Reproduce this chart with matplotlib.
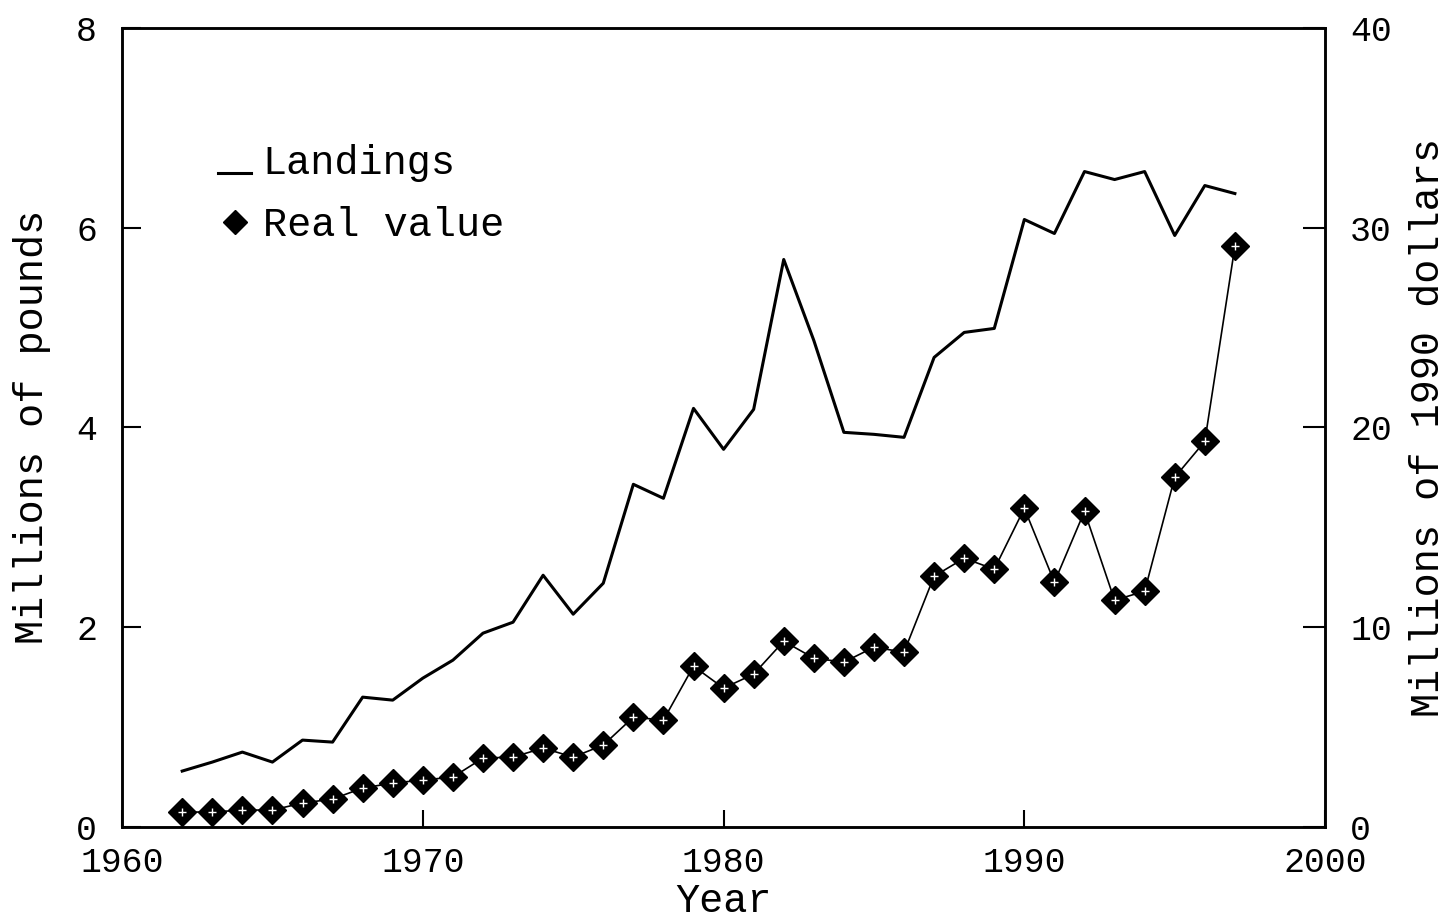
import numpy as np
import matplotlib.pyplot as plt
from matplotlib.lines import Line2D
from matplotlib.legend_handler import HandlerLine2D

plt.rcParams['font.family'] = ['Liberation Mono', 'DejaVu Sans Mono']

years = np.arange(1962, 1998)

# landings, millions of pounds
landings = [0.56, 0.65, 0.75, 0.65, 0.87, 0.85, 1.30, 1.27, 1.49, 1.67,
            1.94, 2.05, 2.52, 2.13, 2.44, 3.43, 3.29, 4.19, 3.78, 4.18,
            5.68, 4.87, 3.95, 3.93, 3.90, 4.70, 4.95, 4.99, 6.08, 5.94,
            6.56, 6.48, 6.56, 5.92, 6.42, 6.34]

# real value, millions of 1990 dollars
real_value = [0.75, 0.75, 0.85, 0.85, 1.2, 1.4, 1.95, 2.2, 2.35, 2.5,
              3.45, 3.5, 3.95, 3.5, 4.1, 5.5, 5.35, 8.05, 6.95, 7.65,
              9.3, 8.45, 8.25, 9.0, 8.75, 12.55, 13.45, 12.9, 15.95, 12.25,
              15.8, 11.35, 11.8, 17.5, 19.3, 29.05]

x_ticks = [1960, 1970, 1980, 1990, 2000]
left_ticks = [0, 2, 4, 6, 8]
right_ticks = [0, 10, 20, 30, 40]


class UnderscoreHandler(HandlerLine2D):
    # legend line sitting on the text baseline, like an underscore
    def create_artists(self, legend, orig_handle, xdescent, ydescent,
                       width, height, fontsize, trans):
        arts = super().create_artists(legend, orig_handle, xdescent, ydescent,
                                      width, height, fontsize, trans)
        for a in arts:
            a.set_ydata([-ydescent + 0.5] * len(a.get_xdata()))
        return arts


fig = plt.figure(figsize=(14.46, 9.22), dpi=100)
ax = fig.add_axes([0.0844, 0.103, 0.832, 0.867])
ax2 = ax.twinx()

ax.plot(years, landings, color='black', lw=2.2)
ax2.plot(years, real_value, color='black', lw=1.2, marker='D',
         markersize=14, markerfacecolor='black', markeredgecolor='black')
# light speckle inside the diamonds
ax2.plot(years, real_value, ls='none', marker='+', markersize=6,
         markeredgecolor='white', markeredgewidth=1.0)

ax.set_xlim(1960, 2000)
ax.set_ylim(0, 8)
ax2.set_ylim(0, 40)
ax.set_xticks(x_ticks)
ax.set_yticks(left_ticks)
ax2.set_yticks(right_ticks)

ax.tick_params(axis='x', direction='in', length=12, width=1.5, pad=14,
               labelsize=25, top=False)
ax.tick_params(axis='y', direction='in', length=14, width=1.5, pad=18,
               labelsize=25)
ax2.tick_params(axis='y', direction='in', length=16, width=1.5, pad=18,
                labelsize=25)

for a in (ax, ax2):
    for s in a.spines.values():
        s.set_linewidth(1.8)

ax.set_xlabel('Year', fontsize=29, labelpad=2)
ax.set_ylabel('Millions of pounds', fontsize=29, labelpad=18)
ax2.set_ylabel('Millions of 1990 dollars', fontsize=29, labelpad=12)

line_handle = Line2D([], [], color='black', lw=2.2)
diamond_handle = Line2D([], [], ls='none', marker='D', markersize=12,
                        color='black')
ax.legend([line_handle, diamond_handle], ['Landings', 'Real value'],
          loc='upper left', bbox_to_anchor=(0.05, 0.90), frameon=False,
          fontsize=29, handlelength=0.8, handletextpad=0.3, labelspacing=0.6,
          handler_map={line_handle: UnderscoreHandler()})

fig.savefig('out.png', dpi=100)
